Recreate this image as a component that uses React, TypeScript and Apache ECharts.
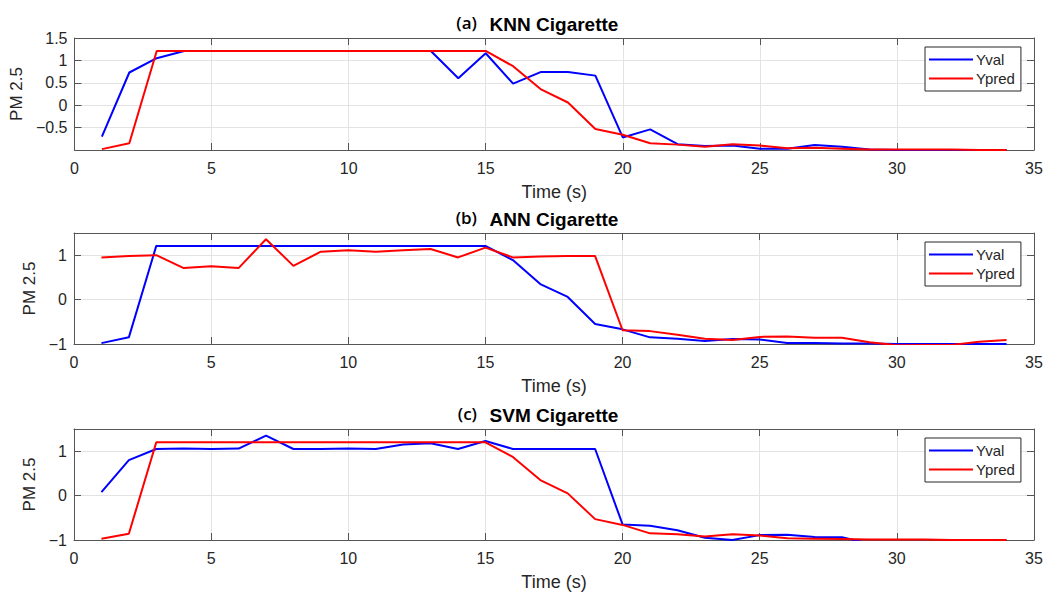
import React, { useEffect, useRef } from "react";
import * as echarts from "echarts";

const times = [1, 2, 3, 4, 5, 6, 7, 8, 9, 10, 11, 12, 13, 14, 15, 16, 17, 18, 19, 20, 21, 22, 23, 24, 25, 26, 27, 28, 29, 30, 31, 32, 33, 34];

const knnVal = [-0.70, 0.73, 1.05, 1.21, 1.21, 1.21, 1.21, 1.21, 1.21, 1.21, 1.21, 1.21, 1.21, 0.60, 1.16, 0.48, 0.74, 0.74, 0.66, -0.72, -0.54, -0.87, -0.91, -0.90, -0.97, -0.97, -0.89, -0.93, -0.99, -1.0, -1.0, -1.0, -1.0, -1.0];
const knnPred = [-0.98, -0.85, 1.21, 1.21, 1.21, 1.21, 1.21, 1.21, 1.21, 1.21, 1.21, 1.21, 1.21, 1.21, 1.21, 0.87, 0.36, 0.06, -0.53, -0.66, -0.85, -0.88, -0.93, -0.87, -0.90, -0.96, -0.95, -0.97, -0.99, -0.99, -0.99, -0.99, -1.0, -1.0];

const annVal = [-0.98, -0.85, 1.21, 1.21, 1.21, 1.21, 1.21, 1.21, 1.21, 1.21, 1.21, 1.21, 1.21, 1.21, 1.21, 0.89, 0.35, 0.06, -0.55, -0.67, -0.85, -0.88, -0.93, -0.89, -0.90, -0.98, -0.98, -0.99, -0.99, -1.0, -1.0, -1.0, -1.0, -1.0];
const annPred = [0.95, 0.98, 1.0, 0.71, 0.75, 0.71, 1.36, 0.76, 1.08, 1.11, 1.08, 1.11, 1.14, 0.95, 1.17, 0.95, 0.97, 0.98, 0.98, -0.69, -0.71, -0.79, -0.88, -0.91, -0.84, -0.83, -0.86, -0.86, -0.96, -1.03, -1.02, -1.02, -0.95, -0.91];

const svmVal = [0.08, 0.80, 1.05, 1.06, 1.05, 1.06, 1.35, 1.05, 1.05, 1.06, 1.05, 1.15, 1.18, 1.05, 1.23, 1.05, 1.05, 1.05, 1.05, -0.65, -0.68, -0.78, -0.95, -1.0, -0.89, -0.88, -0.93, -0.94, -1.08, -1.08, -1.08, -1.08, -1.06, -1.01];
const svmPred = [-0.97, -0.86, 1.20, 1.20, 1.20, 1.20, 1.20, 1.20, 1.20, 1.20, 1.20, 1.20, 1.20, 1.20, 1.20, 0.87, 0.35, 0.05, -0.53, -0.66, -0.85, -0.87, -0.92, -0.87, -0.90, -0.96, -0.97, -0.98, -0.99, -0.99, -0.99, -1.0, -1.0, -1.0];

const panelTags = ["(a)", "(b)", "(c)"];
const panelTitles = ["KNN Cigarette", "ANN Cigarette", "SVM Cigarette"];
const seriesNames = ["Yval", "Ypred"];
const yIntervals = [0.5, 1, 1];

const panels = [
  { val: knnVal, pred: knnPred },
  { val: annVal, pred: annPred },
  { val: svmVal, pred: svmPred },
];

const gridTops = [38, 233, 429];
const gridHeight = 112;
const gridLeft = 74;
const gridRight = 14;
const axisColor = "#555555";
const textColor = "#262626";
const splitColor = "#e3e3e3";
const FONT = "'Liberation Sans', Arial, Helvetica, sans-serif";

const fmtY = (v: number) => {
  const r = Math.round(v * 100) / 100;
  const s = String(Math.abs(r));
  return r < 0 ? "\u2212" + s : s;
};

export default function App() {
  const ref = useRef<HTMLDivElement>(null);
  useEffect(() => {
    if (!ref.current) return;
    const chart = echarts.init(ref.current, undefined, { renderer: "svg" });

    const grids: any[] = [];
    const xAxes: any[] = [];
    const yAxes: any[] = [];
    const series: any[] = [];
    const legends: any[] = [];
    const graphics: any[] = [];

    panels.forEach((p, g) => {
      const top = gridTops[g];
      grids.push({ left: gridLeft, right: gridRight, top, height: g === 0 ? gridHeight : gridHeight - 1, containLabel: false });
      const xBase = {
        type: "value",
        gridIndex: g,
        min: 0,
        max: 35,
        interval: 5,
        axisLine: { show: true, onZero: false, lineStyle: { color: axisColor, width: 1 } },
        axisTick: { show: true, inside: true, length: 7, lineStyle: { color: axisColor } },
        splitLine: { show: false },
      };
      xAxes.push({
        ...xBase,
        position: "bottom",
        splitLine: { show: true, lineStyle: { color: splitColor, width: 1 } },
        axisLabel: { show: true, color: textColor, fontSize: 16, fontFamily: FONT, margin: 10 },
        name: "Time (s)",
        nameLocation: "middle",
        nameGap: 33,
        nameTextStyle: { color: textColor, fontSize: 18, fontFamily: FONT },
      });
      xAxes.push({ ...xBase, position: "top", axisLabel: { show: false } });

      const yBase = {
        type: "value",
        gridIndex: g,
        min: -1,
        max: 1.5,
        interval: yIntervals[g],
        axisLine: { show: true, onZero: false, lineStyle: { color: axisColor, width: 1 } },
        axisTick: { show: true, inside: true, length: 7, lineStyle: { color: axisColor } },
        splitLine: { show: false },
      };
      yAxes.push({
        ...yBase,
        position: "left",
        splitLine: { show: true, lineStyle: { color: splitColor, width: 1 } },
        axisLabel: {
          show: true,
          color: textColor,
          fontSize: 16,
          fontFamily: FONT,
          margin: 7,
          showMinLabel: g !== 0,
          showMaxLabel: g === 0,
          formatter: (v: number) => fmtY(v),
        },
        name: "PM 2.5",
        nameLocation: "middle",
        nameGap: g === 0 ? 44 : 30,
        nameTextStyle: { color: textColor, fontSize: 17, fontFamily: FONT },
      });
      yAxes.push({ ...yBase, position: "right", axisLabel: { show: false } });

      const vals = [p.val, p.pred];
      const colors = ["#0000ff", "#ff0000"];
      vals.forEach((arr, k) => {
        series.push({
          type: "line",
          name: seriesNames[k],
          xAxisIndex: 2 * g,
          yAxisIndex: 2 * g,
          data: times.map((t, i) => [t, arr[i]]),
          symbol: "none",
          showSymbol: false,
          clip: true,
          lineStyle: { color: colors[k], width: 2 },
          itemStyle: { color: colors[k] },
        });
      });

      legends.push({
        data: seriesNames,
        orient: "vertical",
        left: 925,
        top: top + 9,
        padding: [5, 6, 5, 4],
        itemGap: 4,
        icon: "rect",
        itemWidth: 44,
        itemHeight: 2,
        backgroundColor: "#ffffff",
        borderColor: "#262626",
        borderWidth: 1,
        borderRadius: 0,
        selectedMode: false,
        textStyle: { color: textColor, fontSize: 15, fontFamily: FONT, lineHeight: 15, padding: [0, 0, 0, -2] },
      });

      const ty = top - 14;
      graphics.push({
        type: "text",
        x: gridLeft + (1048 - gridLeft - gridRight) / 2,
        y: ty,
        style: {
          text: panelTitles[g],
          font: `bold 19px ${FONT}`,
          fill: "#000000",
          textAlign: "center",
          textVerticalAlign: "middle",
        },
      });
      graphics.push({
        type: "text",
        x: 477,
        y: ty - 2,
        style: {
          text: panelTags[g],
          font: `600 17px 'Open Sans', sans-serif`,
          fill: "#000000",
          textAlign: "right",
          textVerticalAlign: "middle",
        },
      });
    });

    chart.setOption({
      animation: false,
      backgroundColor: "#ffffff",
      grid: grids,
      xAxis: xAxes,
      yAxis: yAxes,
      series,
      legend: legends,
      graphic: graphics,
    });
    return () => chart.dispose();
  }, []);

  return (
    <div
      ref={ref}
      style={{ width: 1048, height: 594, position: "absolute", left: 0, top: 0, background: "#fff" }}
    />
  );
}
